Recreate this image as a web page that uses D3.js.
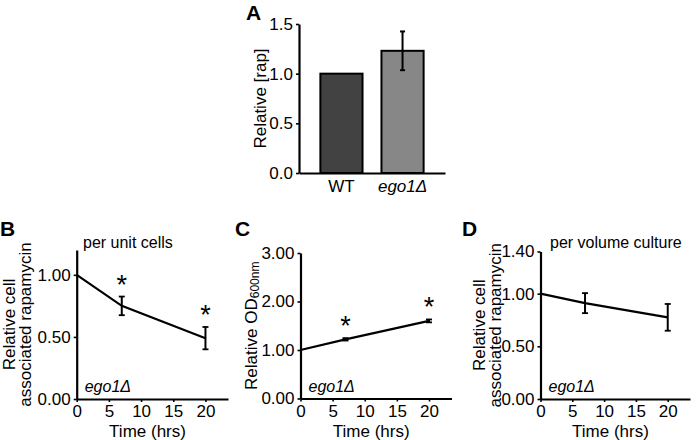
<!DOCTYPE html>
<html><head><meta charset="utf-8">
<script src="https://cdn.jsdelivr.net/npm/d3@7"></script>
<style>
body{margin:0;background:#fff;}
svg{display:block;font-family:"Liberation Sans",Arial,sans-serif;}
</style></head>
<body><svg id="c" width="700" height="440"></svg>
<script>
// Panel A data
const barCategories = ["WT", "ego1Δ"];
const barValues = [1.0, 1.23];
const barErrors = [0, 0.195];
const barTicks = [0, 0.5, 1.0, 1.5];

// Time-course data (hrs)
const times = [0, 7, 20];
const timeTicks = [0, 5, 10, 15, 20];
// Panel B: per unit cells
const bValues = [1.0, 0.75, 0.49];
const bErrors = [0, 0.075, 0.09];
const bSig = [false, true, true];
const bTicks = [0, 0.5, 1.0];
// Panel C: relative OD600nm
const cValues = [1.0, 1.22, 1.60];
const cErrors = [0, 0.025, 0.03];
const cSig = [false, true, true];
const cTicks = [0, 1, 2, 3];
// Panel D: per volume culture
const dValues = [1.0, 0.91, 0.775];
const dErrors = [0, 0.095, 0.127];
const dTicks = [0, 0.5, 1.0, 1.4];

const svg = d3.select("#c");
const FS = 17;

function styleAxis(g){
  g.selectAll(".domain").attr("stroke","#000").attr("stroke-width",2.2);
  g.selectAll(".tick line").attr("stroke","#000").attr("stroke-width",1.6);
  g.selectAll(".tick text").attr("font-size",FS).attr("fill","#000")
   .attr("font-family","Liberation Sans, Arial, sans-serif");
}

// ---------- Panel A ----------
{
  const y = d3.scaleLinear().domain([0,1.5]).range([173,24]);
  const x = d3.scaleBand().domain(barCategories).range([299,445]).paddingInner(0.31).paddingOuter(0.35);
  const g = svg.append("g");
  g.selectAll("rect").data(barCategories).join("rect")
    .attr("x",d=>x(d)).attr("width",x.bandwidth())
    .attr("y",(d,i)=>y(barValues[i])).attr("height",(d,i)=>y(0)-y(barValues[i]))
    .attr("fill",(d,i)=>i===0?"#424242":"#878787")
    .attr("stroke","#000").attr("stroke-width",2);
  barCategories.forEach((c,i)=>{
    if(barErrors[i]>0){
      const cx = x(c)+x.bandwidth()/2;
      g.append("line").attr("x1",cx).attr("x2",cx).attr("y1",y(barValues[i]+barErrors[i])).attr("y2",y(barValues[i]-barErrors[i])).attr("stroke","#000").attr("stroke-width",2);
      [barValues[i]+barErrors[i], barValues[i]-barErrors[i]].forEach(v=>{
        g.append("line").attr("x1",cx-2.5).attr("x2",cx+2.5).attr("y1",y(v)).attr("y2",y(v)).attr("stroke","#000").attr("stroke-width",2);
      });
    }
  });
  const ya = g.append("g").attr("transform","translate(299,0)")
    .call(d3.axisLeft(y).tickValues(barTicks).tickFormat(d3.format(".1f")).tickSize(3).tickSizeOuter(0).tickPadding(3));
  styleAxis(ya);
  const xa = g.append("g").attr("transform","translate(0,173)")
    .call(d3.axisBottom(x).tickSize(0).tickSizeOuter(0).tickPadding(7));
  styleAxis(xa);
  xa.selectAll(".tick text").attr("font-style",d=>d==="WT"?"normal":"italic");
  g.append("text").attr("transform","translate(266,98.5) rotate(-90)").attr("text-anchor","middle")
    .attr("font-size",FS).text("Relative [rap]");
  g.append("text").attr("x",246).attr("y",20).attr("font-size",21).attr("font-weight","bold").text("A");
}

function timePanel(opt){
  const {x0, xEnd, y0, yTop, yMax, values, errors, sig, ticks, fmt, letter, lx} = opt;
  const x = d3.scaleLinear().domain([0,23.5]).range([x0,xEnd]);
  const y = d3.scaleLinear().domain([0,yMax]).range([y0,yTop]);
  const g = svg.append("g");
  const xa = g.append("g").attr("transform",`translate(0,${y0})`)
    .call(d3.axisBottom(x).tickValues(timeTicks).tickSize(3).tickSizeOuter(0).tickPadding(3));
  styleAxis(xa);
  const ya = g.append("g").attr("transform",`translate(${x0},0)`)
    .call(d3.axisLeft(y).tickValues(ticks).tickFormat(fmt).tickSize(3).tickSizeOuter(0).tickPadding(3));
  styleAxis(ya);
  const line = d3.line().x((d,i)=>x(times[i])).y(d=>y(d));
  g.append("path").datum(values).attr("d",line).attr("fill","none").attr("stroke","#000").attr("stroke-width",2.2);
  times.forEach((t,i)=>{
    if(errors[i]>0){
      const cx = x(t);
      g.append("line").attr("x1",cx).attr("x2",cx).attr("y1",y(values[i]+errors[i])).attr("y2",y(values[i]-errors[i])).attr("stroke","#000").attr("stroke-width",2);
      [values[i]+errors[i], values[i]-errors[i]].forEach(v=>{
        g.append("line").attr("x1",cx-3).attr("x2",cx+3).attr("y1",y(v)).attr("y2",y(v)).attr("stroke","#000").attr("stroke-width",1.8);
      });
    }
    if(sig && sig[i]){
      g.append("text").attr("x",x(t)).attr("y",y(values[i]+errors[i])-3).attr("text-anchor","middle")
        .attr("font-size",27).text("*");
    }
  });
  g.append("text").attr("x",x(11)).attr("y",437).attr("text-anchor","middle").attr("font-size",FS).text("Time (hrs)");
  g.append("text").attr("x",x0+8).attr("y",392).attr("font-size",16).attr("font-style","italic").text("ego1Δ");
  g.append("text").attr("x",lx).attr("y",236).attr("font-size",21).attr("font-weight","bold").text(letter);
  return {g,x,y};
}

// ---------- Panel B ----------
{
  const p = timePanel({x0:76.7,xEnd:228,y0:399,yTop:250,yMax:1.2,values:bValues,errors:bErrors,sig:bSig,ticks:bTicks,fmt:d3.format(".2f"),letter:"B",lx:0});
  const mid = (399+250)/2;
  p.g.append("text").attr("transform",`translate(15,${mid}) rotate(-90)`).attr("text-anchor","middle").attr("font-size",FS).text("Relative cell");
  p.g.append("text").attr("transform",`translate(31,${mid}) rotate(-90)`).attr("text-anchor","middle").attr("font-size",FS).text("associated rapamycin");
  p.g.append("text").attr("x",83).attr("y",248).attr("font-size",16).text("per unit cells");
}
// ---------- Panel C ----------
{
  const p = timePanel({x0:300.5,xEnd:451.5,y0:398.5,yTop:253,yMax:3,values:cValues,errors:cErrors,sig:cSig,ticks:cTicks,fmt:d3.format(".2f"),letter:"C",lx:235});
  const mid = (398.5+253)/2;
  const t = p.g.append("text").attr("transform",`translate(257,${mid}) rotate(-90)`).attr("text-anchor","middle").attr("font-size",FS);
  t.append("tspan").text("Relative OD");
  t.append("tspan").attr("font-size",12).attr("dy",2).text("600nm");
}
// ---------- Panel D ----------
{
  const p = timePanel({x0:540.5,xEnd:690,y0:399,yTop:251.5,yMax:1.4,values:dValues,errors:dErrors,sig:null,ticks:dTicks,fmt:d3.format(".2f"),letter:"D",lx:462});
  const mid = (399+251.5)/2;
  p.g.append("text").attr("transform",`translate(485,${mid}) rotate(-90)`).attr("text-anchor","middle").attr("font-size",FS).text("Relative cell");
  p.g.append("text").attr("transform",`translate(501,${mid}) rotate(-90)`).attr("text-anchor","middle").attr("font-size",FS).text("associated rapamycin");
  p.g.append("text").attr("x",550).attr("y",248).attr("font-size",16).text("per volume culture");
}
</script></body></html>
